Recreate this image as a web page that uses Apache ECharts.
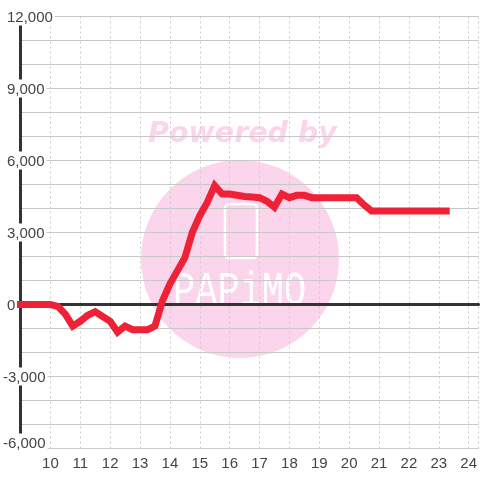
<!DOCTYPE html>
<html>
<head>
<meta charset="utf-8">
<style>
html, body { margin: 0; padding: 0; background: #fff; }
#myChart { width: 480px; height: 480px; }
</style>
<script src="https://cdn.jsdelivr.net/npm/echarts@6/dist/echarts.min.js"></script>
</head>
<body>
<div id="myChart"></div>
<script>
// hours of the day
var hours = [9, 10, 10.25, 10.5, 10.75, 11, 11.25, 11.5, 11.75, 12, 12.25, 12.5, 12.75, 13, 13.25, 13.5, 13.75,
    14, 14.25, 14.5, 14.75, 15, 15.25, 15.5, 15.75, 16, 16.25, 16.5, 16.75, 17, 17.25, 17.5, 17.75,
    18, 18.25, 18.5, 18.75, 19, 20.25, 20.5, 20.75, 23.25];
var profit = [0, 0, -80, -400, -900, -700, -450, -300, -500, -700, -1150, -900, -1050, -1050, -1050, -900, 150,
    850, 1400, 1950, 3000, 3700, 4250, 4950, 4600, 4600, 4550, 4500, 4480, 4450, 4300, 4050, 4600,
    4450, 4550, 4550, 4450, 4450, 4450, 4150, 3900, 3900];

var points = hours.map(function (h, i) { return [h, profit[i]]; });
var fontName = '"Liberation Sans", Arial, sans-serif';
var pink = '#fbd5ec';
var textColor = '#444';

var myChart = echarts.init(document.getElementById('myChart'), null, { renderer: 'canvas' });
myChart.setOption({
    animation: false,
    backgroundColor: '#fff',
    grid: { left: 20.5, right: 0, top: 16.5, bottom: 31.5 },
    // watermark under the grid lines
    graphic: [
        { type: 'circle', z: -10, shape: { cx: 240, cy: 259, r: 99 }, style: { fill: pink } },
        { type: 'text', z: -10, x: 148, y: 120, style: { text: 'Powered by', fill: pink, font: 'italic bold 28.5px "DejaVu Sans"' } },
        { type: 'rect', z: -9, shape: { x: 225, y: 204, width: 32, height: 54, r: 4 }, style: { fill: 'none', stroke: '#fff', lineWidth: 2.5 } },
        { type: 'text', z: -9, x: 173, y: 268, scaleY: 1.3, style: { text: 'PAPiMO', fill: '#fff', font: '37px "Liberation Mono"' } }
    ],
    xAxis: [{
        type: 'value',
        min: 9,
        max: 24.33,
        interval: 1,
        axisLine: { onZero: false, lineStyle: { color: '#ccc', width: 1 } },
        axisTick: { show: false },
        axisLabel: { showMinLabel: false, showMaxLabel: false, color: textColor, fontFamily: fontName, fontSize: 15, margin: 8 },
        splitLine: { show: true, lineStyle: { color: '#ccc', type: [2, 3], width: 1 } }
    }, {
        // zero line
        type: 'value',
        position: 'bottom',
        min: 9,
        max: 24.33,
        interval: 1,
        axisLine: { onZero: true, lineStyle: { color: '#333', width: 3 } },
        axisTick: { show: false },
        axisLabel: { show: false },
        splitLine: { show: false }
    }],
    yAxis: {
        type: 'value',
        min: -6000,
        max: 12000,
        interval: 3000,
        minorTick: { show: false, splitNumber: 3 },
        axisLine: { show: true, onZero: false, lineStyle: { color: '#333', width: 3 } },
        axisTick: { show: false },
        axisLabel: {
            align: 'left',
            margin: 17.5,
            formatter: function (v) {
                var s = Math.abs(v).toLocaleString('en-US');
                // lowest label sits above its tick
                if (v === -6000) return '{low|-' + s + '}';
                return v < 0 ? '{neg|-' + s + '}' : '{pos|' + s + '}';
            },
            rich: {
                pos: { color: textColor, fontFamily: fontName, fontSize: 15, height: 16, lineHeight: 18, backgroundColor: '#fff', padding: [2, 2, 0, 4] },
                neg: { color: textColor, fontFamily: fontName, fontSize: 15, height: 16, lineHeight: 18, backgroundColor: '#fff', padding: [2, 2, 0, 0] },
                low: { color: textColor, fontFamily: fontName, fontSize: 15, height: 16, lineHeight: 18, backgroundColor: '#fff', padding: [2, 2, 12, 0] }
            }
        },
        splitLine: { show: true, lineStyle: { color: '#c8c8c8', width: 1 } },
        minorSplitLine: { show: true, lineStyle: { color: '#c8c8c8', width: 1 } }
    },
    series: [{
        type: 'line',
        data: points,
        clip: false,
        showSymbol: false,
        symbol: 'none',
        lineStyle: { color: '#ee2137', width: 7, cap: 'square', join: 'miter' }
    }]
});
</script>
</body>
</html>
